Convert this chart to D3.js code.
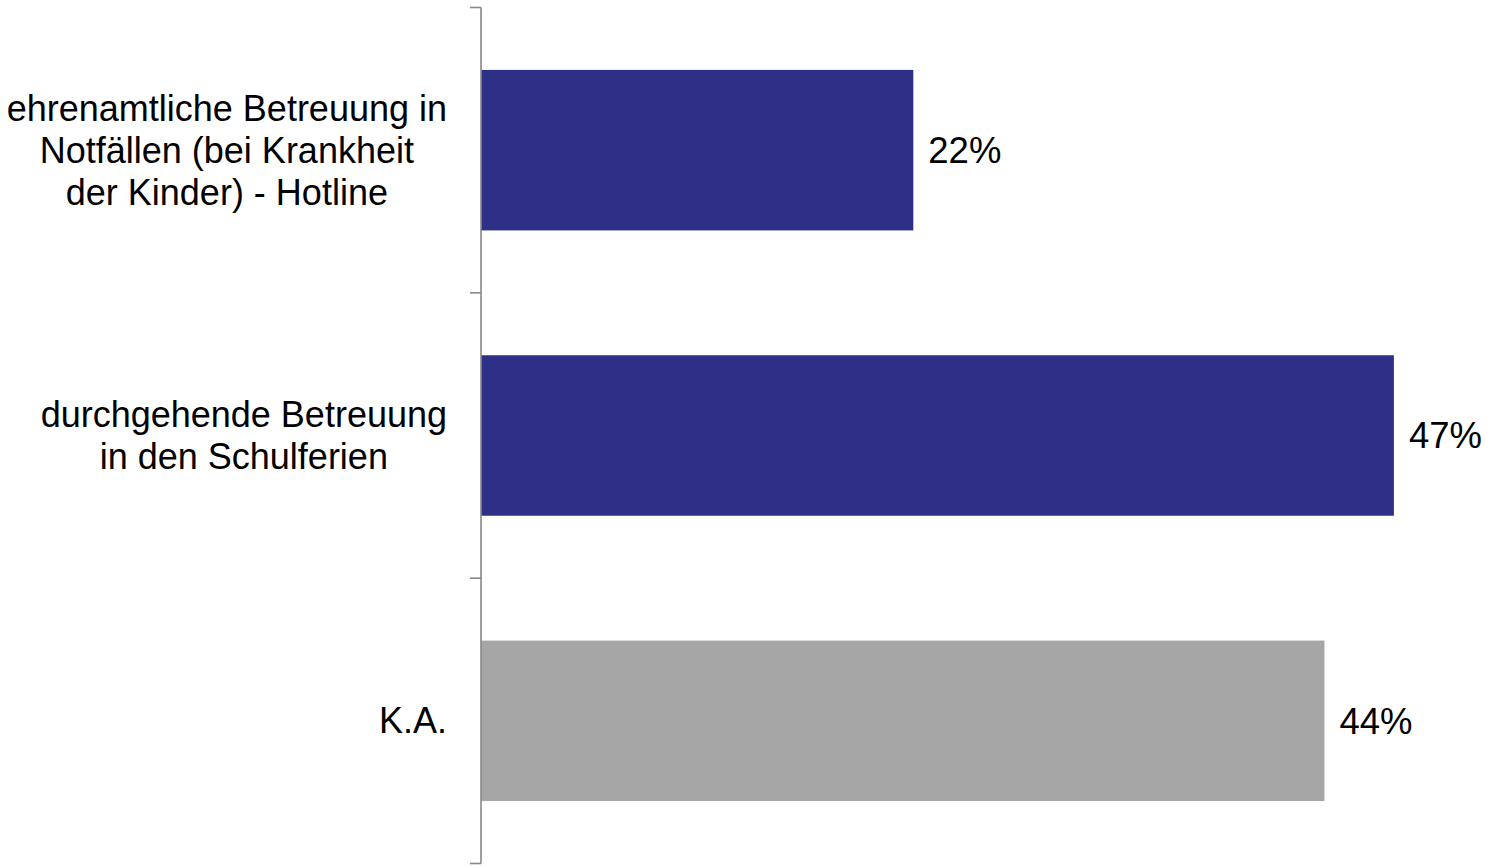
<!DOCTYPE html>
<html><head><meta charset="utf-8">
<script src="https://cdn.jsdelivr.net/npm/d3@7"></script>
<style>html,body{margin:0;padding:0;background:#fff;}svg{display:block;}</style>
</head><body>
<svg id="chart" width="1488" height="866"></svg>
<script>
const categories = [
  ["ehrenamtliche Betreuung in", "Notfällen (bei Krankheit", "der Kinder) - Hotline"],
  ["durchgehende Betreuung", "in den Schulferien"],
  ["K.A."]
];
const values = [22.4, 47.3, 43.7];
const valueLabels = ["22%", "47%", "44%"];
const barColors = ["#2E3088", "#2E3088", "#A6A6A6"];

const svg = d3.select("#chart");
const font = "'Liberation Sans', Arial, sans-serif";
const fontSize = 36;
const valueFontSize = 36.5;
const axisX = 481;
const pi = 0.4375;

const idx = categories.map((d, i) => i);
const y = d3.scaleBand().domain(idx).range([7.5, 863.5]).paddingInner(pi).paddingOuter(pi / 2);
const x = d3.scaleLinear().domain([0, 50]).range([axisX, axisX + 965]);

// bars
svg.selectAll("rect.bar").data(idx).join("rect")
  .attr("class", "bar")
  .attr("x", x(0))
  .attr("y", i => y(i))
  .attr("width", i => x(values[i]) - x(0))
  .attr("height", y.bandwidth())
  .attr("fill", i => barColors[i]);

// axis line and ticks at band boundaries
const boundaries = idx.map(i => y(i) - pi * y.step() / 2).concat([y.range()[1]]);
svg.append("line").attr("x1", axisX).attr("x2", axisX)
  .attr("y1", y.range()[0]).attr("y2", y.range()[1])
  .attr("stroke", "#888").attr("stroke-width", 1.6);
svg.selectAll("line.tick").data(boundaries).join("line")
  .attr("class", "tick")
  .attr("x1", axisX - 11).attr("x2", axisX)
  .attr("y1", d => d).attr("y2", d => d)
  .attr("stroke", "#888").attr("stroke-width", 1.6);

// category labels (centered multiline block, right edge near axis)
const lineH = 42;
const measure = svg.append("text").attr("font-family", font).attr("font-size", fontSize);
idx.forEach(i => {
  const lines = categories[i];
  const widths = lines.map(l => { measure.text(l); return measure.node().getComputedTextLength(); });
  const maxW = d3.max(widths);
  const cx = 447 - maxW / 2;
  const cy = y(i) + y.bandwidth() / 2;
  const t = svg.append("text").attr("font-family", font).attr("font-size", fontSize)
    .attr("fill", "#000").attr("text-anchor", "middle");
  lines.forEach((l, k) => {
    t.append("tspan").attr("x", cx)
      .attr("y", cy + (k - (lines.length - 1) / 2) * lineH + fontSize * 0.35)
      .text(l);
  });
});
measure.remove();

// value labels
svg.selectAll("text.val").data(idx).join("text")
  .attr("class", "val")
  .attr("x", i => x(values[i]) + 15)
  .attr("y", i => y(i) + y.bandwidth() / 2 + valueFontSize * 0.35)
  .attr("font-family", font).attr("font-size", valueFontSize).attr("fill", "#000")
  .text(i => valueLabels[i]);
</script>
</body></html>
